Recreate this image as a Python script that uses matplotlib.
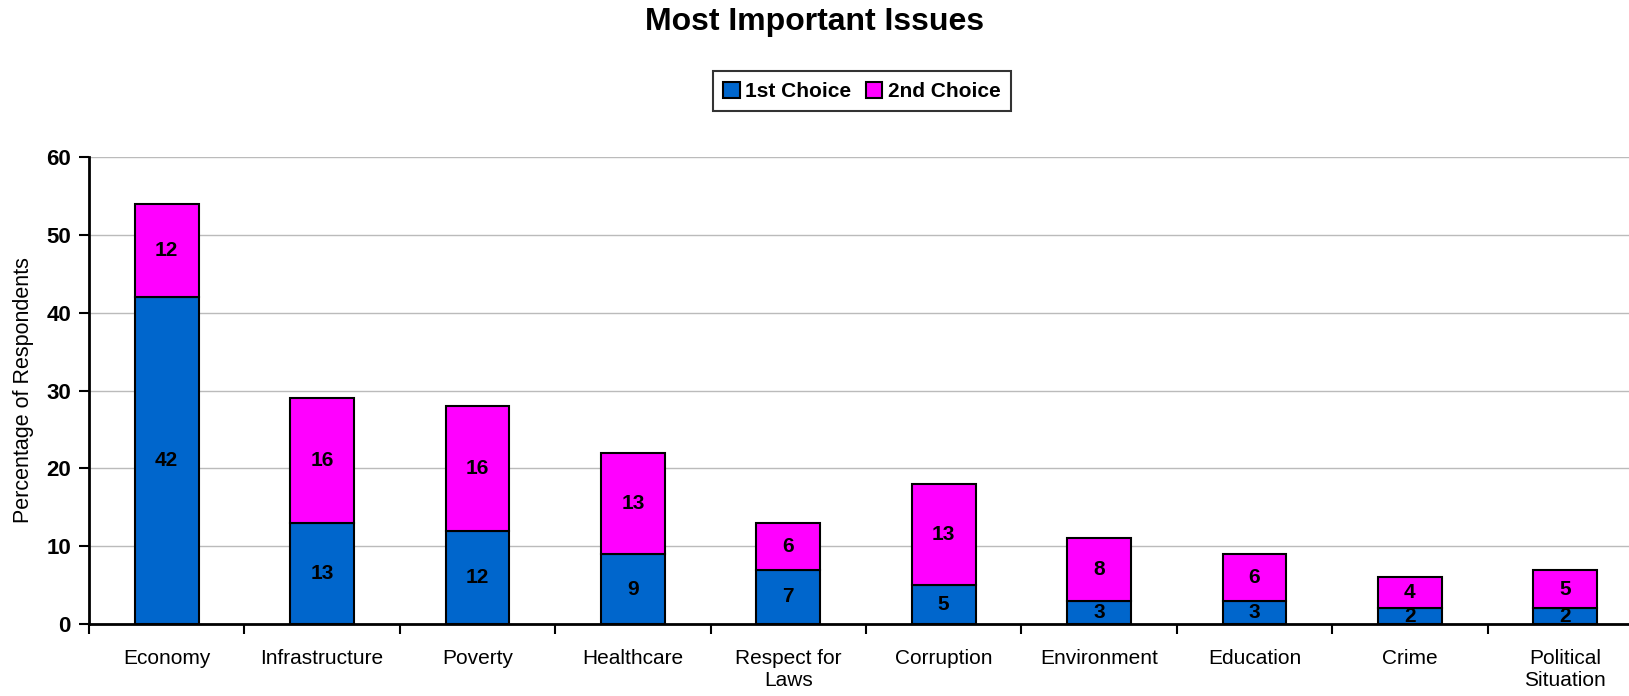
import matplotlib
matplotlib.use("Agg")
import matplotlib.pyplot as plt
import numpy as np

plt.rcParams['font.family'] = ['Liberation Sans', 'DejaVu Sans']

categories = ["Economy", "Infrastructure", "Poverty", "Healthcare", "Respect for\nLaws",
              "Corruption", "Environment", "Education", "Crime", "Political\nSituation"]
first_choice = [42, 13, 12, 9, 7, 5, 3, 3, 2, 2]
second_choice = [12, 16, 16, 13, 6, 13, 8, 6, 4, 5]

fig = plt.figure(figsize=(16.29, 6.96), dpi=100)
ax = fig.add_axes([0.0546, 0.1034, 0.954, 0.671])

x = np.arange(len(categories))
w = 0.41
b1 = ax.bar(x, first_choice, w, color='#0066CC', edgecolor='black', linewidth=1.5,
            label='1st Choice', zorder=3)
b2 = ax.bar(x, second_choice, w, bottom=first_choice, color='#FF00FF', edgecolor='black',
            linewidth=1.5, label='2nd Choice', zorder=3)

# segment values written in the middle of each segment
for i in range(len(categories)):
    ax.text(x[i], first_choice[i] / 2, str(first_choice[i]), ha='center', va='center',
            fontsize=15, fontweight='bold', zorder=4)
    ax.text(x[i], first_choice[i] + second_choice[i] / 2, str(second_choice[i]),
            ha='center', va='center', fontsize=15, fontweight='bold', zorder=4)

ax.set_xlim(-0.5, len(categories) - 0.5)
ax.set_ylim(0, 60)
ax.set_yticks(range(0, 61, 10))
ax.set_yticklabels([str(v) for v in range(0, 61, 10)], fontsize=16, fontweight='bold')
ax.set_xticks(x)
ax.set_xticklabels(categories, fontsize=15)
ax.tick_params(axis='x', length=0, pad=18)
ax.set_xticks(np.arange(-0.5, len(categories), 1), minor=True)
ax.tick_params(axis='x', which='minor', length=7, width=1.5, direction='out')
ax.tick_params(axis='y', length=7, width=1.5, direction='out', pad=6)

ax.grid(axis='y', color='#BBBBBB', linewidth=1, zorder=0)
for s in ['top', 'right']:
    ax.spines[s].set_visible(False)
ax.spines['left'].set_linewidth(2)
ax.spines['bottom'].set_linewidth(2)
ax.spines['left'].set_zorder(5)
ax.spines['bottom'].set_zorder(5)

ax.set_ylabel("Percentage of Respondents", fontsize=15.5, labelpad=9)

fig.suptitle("Most Important Issues", fontsize=23, fontweight='bold', y=0.99)

leg = fig.legend(handles=[b1, b2], loc='center', bbox_to_anchor=(0.529, 0.869), ncol=2,
                 frameon=True, fancybox=False, edgecolor='black',
                 prop={'size': 15, 'weight': 'bold'}, handlelength=0.8, handleheight=0.8,
                 handletextpad=0.25, columnspacing=0.7, borderpad=0.5)
leg.get_frame().set_linewidth(1.5)

fig.savefig("out.png", dpi=100)
